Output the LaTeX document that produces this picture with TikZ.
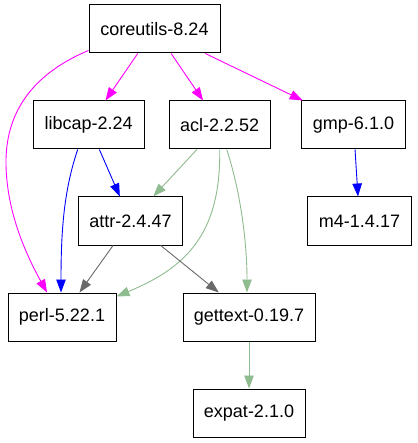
\documentclass[tikz,border=0pt]{standalone}
\usepackage{fontspec}
\setmainfont{Liberation Sans}
\usetikzlibrary{arrows.meta}
\definecolor{mag}{HTML}{FF00FF}
\definecolor{blu}{HTML}{0000FF}
\definecolor{grn}{HTML}{8FBC8F}
\definecolor{gry}{HTML}{696969}
\tikzset{
  pkg/.style={draw=black, line width=1pt, fill=white, rectangle, inner sep=0pt, minimum height=48pt, font=\fontsize{18}{21}\selectfont},
  dep/.style={line width=0.9pt, -{Triangle[length=13pt,width=9.5pt]}},
  magedge/.style={dep, draw=mag},
  bluedge/.style={dep, draw=blu},
  grnedge/.style={dep, draw=grn},
  gryedge/.style={dep, draw=gry}
}
\begin{document}
\begin{tikzpicture}[x=1pt,y=-1pt]
\useasboundingbox (0,0) rectangle (417,443);
\node[pkg, minimum width=131pt] (coreutils) at (154.5,29) {coreutils-8.24};
\node[pkg, minimum width=111pt] (libcap) at (88.7,125) {libcap-2.24};
\node[pkg, minimum width=101pt] (acl) at (219.7,125) {acl-2.2.52};
\node[pkg, minimum width=104pt] (gmp) at (353.5,125) {gmp-6.1.0};
\node[pkg, minimum width=104pt] (attr) at (130.5,221) {attr-2.4.47};
\node[pkg, minimum width=104pt] (m4) at (359.5,221) {m4-1.4.17};
\node[pkg, minimum width=108pt] (perl) at (62,317) {perl-5.22.1};
\node[pkg, minimum width=132pt] (gettext) at (249,317) {gettext-0.19.7};
\node[pkg, minimum width=112pt] (expat) at (249,413) {expat-2.1.0};

\draw[magedge] (coreutils) -- (libcap);
\draw[magedge] (coreutils) -- (acl);
\draw[magedge] (coreutils) -- (gmp);
\draw[magedge] ([yshift=3pt]coreutils.south west) .. controls (30,75) and (5,115) .. (6,165)
  .. controls (7,215) and (28,258) .. ([xshift=-15pt]perl.north);
\draw[bluedge] (libcap) -- (attr);
\draw[bluedge] ([xshift=-11pt]libcap.south) .. controls (64,190) and (61,230) .. ([xshift=-1pt]perl.north);
\draw[bluedge] (gmp) -- (m4);
\draw[grnedge] (acl) -- (attr);
\draw[grnedge] (acl.south) .. controls (221,235) and (185,268) .. ([yshift=-4pt]perl.north east);
\draw[grnedge] ([xshift=7pt]acl.south) .. controls (240,190) and (247,240) .. ([xshift=-2pt]gettext.north);
\draw[gryedge] (attr) -- (perl);
\draw[gryedge] (attr) -- (gettext);
\draw[grnedge] (gettext) -- (expat);
\end{tikzpicture}
\end{document}
